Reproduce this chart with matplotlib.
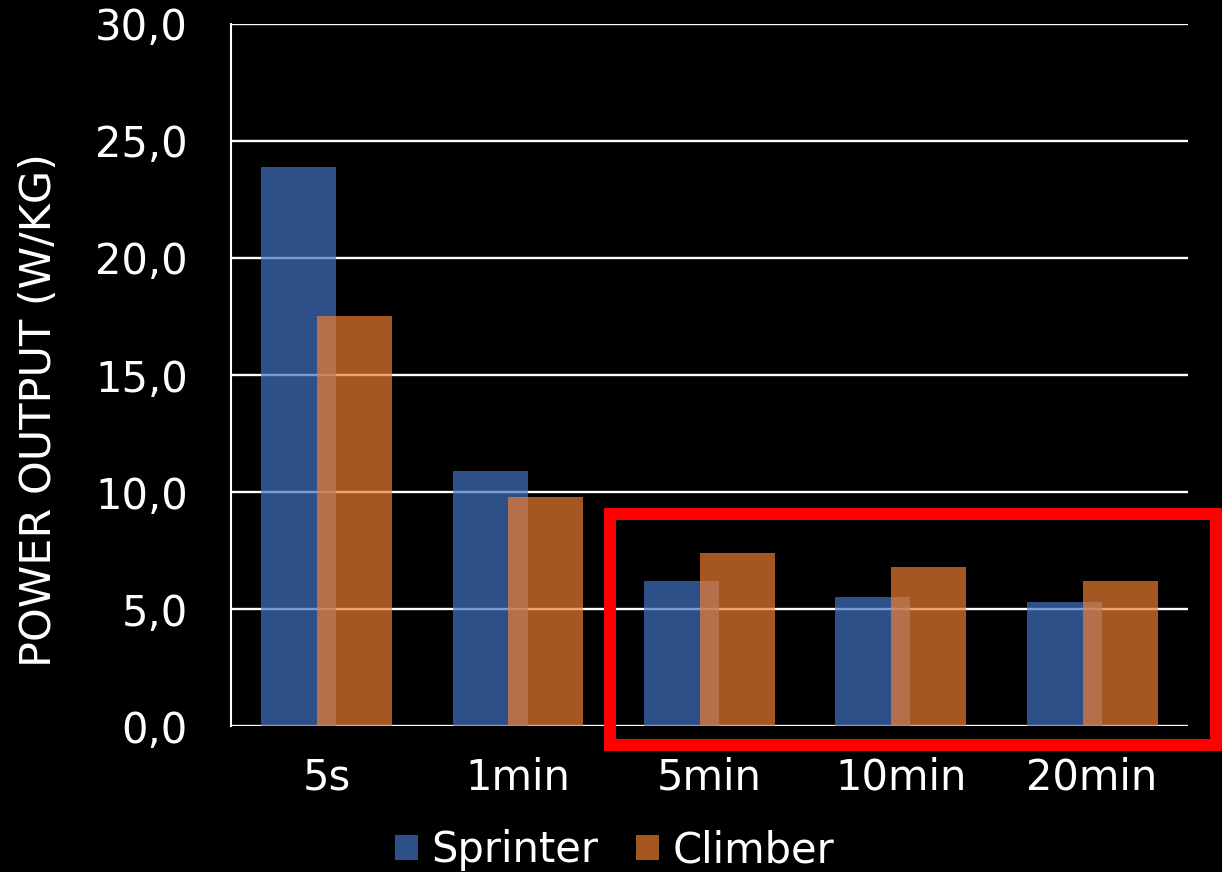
import numpy as np
import matplotlib.pyplot as plt
from matplotlib.patches import Rectangle

plt.rcParams['font.family'] = ['DejaVu Sans']

durations = ['5s', '1min', '5min', '10min', '20min']
sprinter = [23.9, 10.9, 6.2, 5.5, 5.3]
climber = [17.5, 9.8, 7.4, 6.8, 6.2]

blue = '#4472C4'
orange = '#ED7D31'

fig = plt.figure(figsize=(12.22, 8.72), dpi=100, facecolor='black')
ax = fig.add_axes([0.189, 0.1674, 0.783, 0.8051])
ax.set_facecolor('black')

x = np.arange(len(durations))
w = 0.392
off = 0.146
ax.bar(x - off, sprinter, w, color=blue, alpha=0.7, label='Sprinter', zorder=2)
ax.bar(x + off, climber, w, color=orange, alpha=0.7, label='Climber', zorder=3)

ax.set_xlim(-0.5, len(durations) - 0.5)
ax.set_ylim(0, 30)
ax.set_yticks(np.arange(0, 31, 5))
ax.set_yticklabels([f'{v:.1f}'.replace('.', ',') for v in np.arange(0, 31, 5)])
ax.set_xticks(x)
ax.set_xticklabels(durations)
ax.tick_params(axis='both', length=0, colors='white', labelsize=30)
ax.tick_params(axis='y', pad=31)
ax.tick_params(axis='x', pad=22)

ax.set_axisbelow(True)
ax.yaxis.grid(True, color='white', linewidth=1.7)
for side in ['top', 'right', 'bottom']:
    ax.spines[side].set_visible(False)
ax.spines['left'].set_color('white')
ax.spines['left'].set_linewidth(1.5)

ax.set_ylabel('POWER OUTPUT (W/KG)', color='white', fontsize=31)
ax.yaxis.set_label_coords(-0.179, 0.45)

leg = fig.legend(loc='center', bbox_to_anchor=(0.503, 0.025), ncol=2,
                 frameon=False, fontsize=30, handlelength=0.55, handleheight=0.55,
                 handletextpad=0.33, columnspacing=0.9, borderaxespad=0)
for t in leg.get_texts():
    t.set_color('white')

# highlight box around the longer efforts
fig.patches.append(Rectangle((610 / 1222, 1 - 745 / 872), (1216 - 610) / 1222,
                             (745 - 514) / 872, transform=fig.transFigure,
                             fill=False, edgecolor='red', linewidth=8.6))

fig.savefig('out.png', dpi=100, facecolor='black')
